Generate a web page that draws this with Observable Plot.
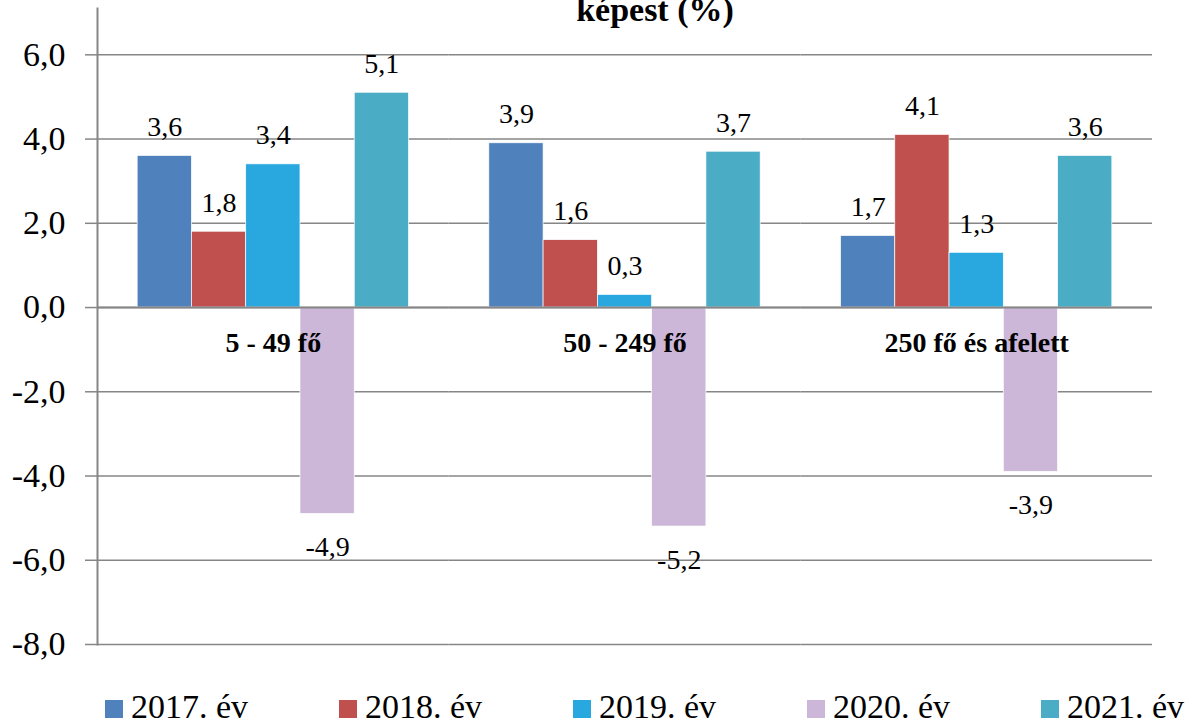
<!DOCTYPE html>
<html>
<head>
<meta charset="utf-8">
<script src="https://cdn.jsdelivr.net/npm/d3@7"></script>
<script src="https://cdn.jsdelivr.net/npm/@observablehq/plot@0.6"></script>
<style>
  html, body { margin: 0; padding: 0; background: #fff; overflow: hidden; }
  body { width: 1185px; height: 719px; position: relative; font-family: "Liberation Serif", "Times New Roman", serif; }
  #title { position: absolute; top: -7px; left: 0; width: 1185px; box-sizing: border-box; padding-left: 125px;
           text-align: center; font-weight: bold; font-size: 34px; line-height: 34px; z-index: 2; color: #000; }
  #chart { position: absolute; top: 0; left: 0; }
  #legend { position: absolute; top: 680px; left: 105px; padding-top: 9.5px; display: flex; font-size: 34px; line-height: 34px; color: #000; white-space: nowrap; }
  .item { width: 234px; }
  .sw { display: inline-block; width: 18px; height: 18px; margin-right: 8px; vertical-align: baseline; }
</style>
</head>
<body>
<div id="title">képest (%)</div>
<div id="chart"></div>
<div id="legend"></div>
<script>
const categories = ["5 - 49 fő", "50 - 249 fő", "250 fő és afelett"];
const years = ["2017. év", "2018. év", "2019. év", "2020. év", "2021. év"];
const v2017 = [3.6, 3.9, 1.7];
const v2018 = [1.8, 1.6, 4.1];
const v2019 = [3.4, 0.3, 1.3];
const v2020 = [-4.9, -5.2, -3.9];
const v2021 = [5.1, 3.7, 3.6];
const colors = ["#4F81BD", "#C0504D", "#29A8E0", "#CDB7D9", "#4BACC6"];
const yTicks = [-8, -6, -4, -2, 0, 2, 4, 6];

const series = [v2017, v2018, v2019, v2020, v2021];
const rows = [];
categories.forEach((c, i) => years.forEach((y, j) => rows.push({category: c, year: y, value: series[j][i]})));
const fmt = d => d.toFixed(1).replace(".", ",");
const font = "'Liberation Serif', 'Times New Roman', serif";

const chart = Plot.plot({
  width: 1185, height: 680,
  marginTop: 8, marginBottom: 36, marginLeft: 97, marginRight: 33,
  style: {fontFamily: font, background: "transparent", color: "#000"},
  fx: {domain: categories, padding: 0, axis: null, round: false},
  x: {domain: years, paddingInner: 0, paddingOuter: 0.74, axis: null, round: false},
  y: {domain: [-8, 7.1], axis: null},
  color: {domain: years, range: colors},
  marks: [
    Plot.gridY(yTicks, {stroke: "#868686", strokeOpacity: 1, strokeWidth: 1.5}),
    Plot.frame({anchor: "left", facetAnchor: "left", stroke: "#868686", strokeWidth: 2}),
    Plot.barY(rows, {fx: "category", x: "year", y: "value", fill: "year", stroke: "#ffffff", strokeWidth: 0.7}),
    Plot.ruleY([0], {stroke: "#868686", strokeWidth: 2}),
    Plot.axisY({ticks: yTicks, tickSize: 12, tickPadding: 20, fontSize: 34, tickFormat: fmt, label: null, stroke: "#868686", strokeWidth: 1.5, fill: "#000"}),
    Plot.text(rows.filter(d => d.value >= 0), {fx: "category", x: "year", y: "value", text: d => fmt(d.value), dy: -29, fontSize: 28, fill: "#000"}),
    Plot.text(rows.filter(d => d.value < 0), {fx: "category", x: "year", y: "value", text: d => fmt(d.value), dy: 33, fontSize: 28, fill: "#000"}),
    Plot.text(categories, {fx: d => d, y: () => 0, frameAnchor: "middle", text: d => d, dy: 35, fontSize: 28, fontWeight: "bold", fill: "#000"})
  ]
});
document.getElementById("chart").appendChild(chart);

const legend = document.getElementById("legend");
years.forEach((y, i) => {
  const it = document.createElement("div");
  it.className = "item";
  it.innerHTML = `<span class="sw" style="background:${colors[i]}"></span>${y}`;
  legend.appendChild(it);
});
</script>
</body>
</html>
